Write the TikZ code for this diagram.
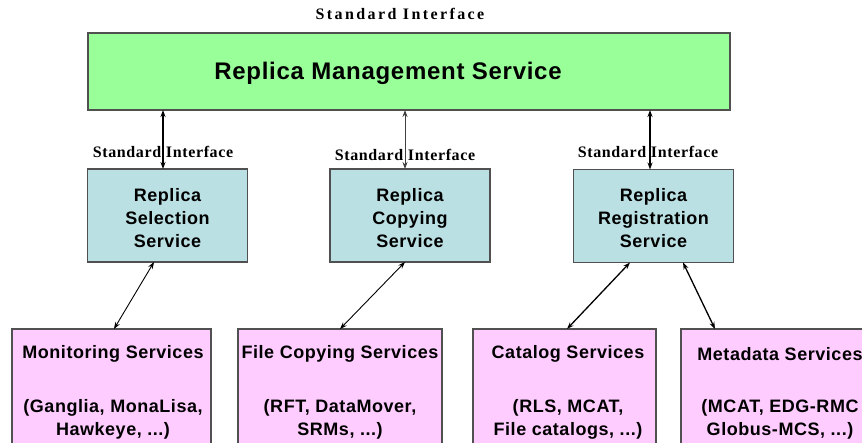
\documentclass[tikz,border=0pt]{standalone}
\usepackage{fontspec}
\setmainfont{Liberation Sans}[LetterSpace=3]
\newfontfamily\ifacewide{Liberation Serif}[LetterSpace=15]
\newfontfamily\ifacenarrow{Liberation Serif}[LetterSpace=4]
\usetikzlibrary{arrows.meta}

\definecolor{mgmtgreen}{RGB}{153,255,153}
\definecolor{svcblue}{RGB}{187,224,227}
\definecolor{extpink}{RGB}{255,204,255}
\definecolor{boxedge}{RGB}{80,80,80}

\tikzset{
  box/.style={draw=boxedge, line width=1.4pt, inner sep=0pt, outer sep=0pt},
  mgmtbox/.style={box, fill=mgmtgreen, minimum width=642pt, minimum height=77pt},
  svcbox/.style={box, fill=svcblue, minimum width=160pt, minimum height=93pt},
  extbox/.style={box, fill=extpink, minimum height=125pt},
  boxtext/.style={font=\bfseries\fontsize{18}{23}\selectfont, align=center, inner sep=0pt},
  ifacelabel/.style={font=\ifacenarrow\bfseries\fontsize{16}{18}\selectfont, inner sep=0pt},
  biarrow/.style={{Stealth[length=7pt,width=5pt]}-{Stealth[length=7pt,width=5pt]}, line width=1.3pt},
  thinarrow/.style={{Stealth[length=7pt,width=5pt]}-{Stealth[length=7pt,width=5pt]}, line width=0.9pt},
}

\begin{document}
\begin{tikzpicture}[x=1pt, y=-1pt]
\useasboundingbox (0,0) rectangle (862,443);
\clip (0,0) rectangle (862,443);
\fill[white] (0,0) rectangle (862,443);

% top layer
\node[font=\ifacewide\bfseries\fontsize{16}{18}\selectfont, inner sep=0pt] (toplabel) at (400,14) {Standard Interface};
\node[mgmtbox] (rms) at (409,71.5) {};
\node[font=\bfseries\fontsize{24}{28}\selectfont, inner sep=0pt] (rmstext) at (388,73) {Replica Management Service};

% replica services
\node[svcbox] (rs) at (167.5,215.5) {};
\node[boxtext] (rstext) at (167.5,218) {Replica\\Selection\\Service};
\node[svcbox] (rc) at (410,215.5) {};
\node[boxtext] (rctext) at (410,218) {Replica\\Copying\\Service};
\node[svcbox] (rg) at (653.5,216) {};
\node[boxtext] (rgtext) at (653.5,218) {Replica\\Registration\\Service};

% interface labels
\node[ifacelabel] (ifa) at (163,152) {Standard Interface};
\node[ifacelabel] (ifb) at (405,155) {Standard Interface};
\node[ifacelabel] (ifc) at (648,152) {Standard Interface};

% external services
\node[extbox, minimum width=199pt] (mon) at (111.5,391.5) {};
\node[extbox, minimum width=204pt] (fcs) at (340,391.5) {};
\node[extbox, minimum width=183pt] (cat) at (564.5,391.5) {};
\node[extbox, minimum width=199pt] (meta) at (780.5,391.5) {};

\node[boxtext] (montitle) at (113,354) {Monitoring Services};
\node[boxtext] (monlist) at (113,419.5) {(Ganglia, MonaLisa,\\Hawkeye, ...)};
\node[boxtext] (fcstitle) at (340,354) {File Copying Services};
\node[boxtext] (fcslist) at (340,419.5) {(RFT, DataMover,\\SRMs, ...)};
\node[boxtext] (cattitle) at (568,354) {Catalog Services};
\node[boxtext] (catlist) at (568,419.5) {(RLS, MCAT,\\File catalogs, ...)};
\node[boxtext] (metatitle) at (780,354) {Metadata Services};
\node[boxtext] (metalist) at (780,419.5) {(MCAT, EDG-RMC\\Globus-MCS, ...)};

% management to replica services
\draw[biarrow] ([xshift=-4.5pt]rs.north) -- ([xshift=-4.5pt]rs.north |- rms.south);
\draw[thinarrow, draw=black!75] ([xshift=-5pt]rc.north) -- ([xshift=-5pt]rc.north |- rms.south);
\draw[biarrow] ([xshift=-3.5pt]rg.north) -- ([xshift=-3.5pt]rg.north |- rms.south);

% replica services to external services
\draw[thinarrow] ([xshift=-13.5pt]rs.south) -- ([xshift=2.5pt]mon.north);
\draw[thinarrow] ([xshift=-5pt]rc.south) -- ([xshift=0pt]fcs.north);
\draw[biarrow] ([xshift=-23.5pt]rg.south) -- ([xshift=2.5pt]cat.north);
\draw[biarrow] ([xshift=29.5pt]rg.south) -- ([xshift=-65.5pt]meta.north);
\end{tikzpicture}
\end{document}
